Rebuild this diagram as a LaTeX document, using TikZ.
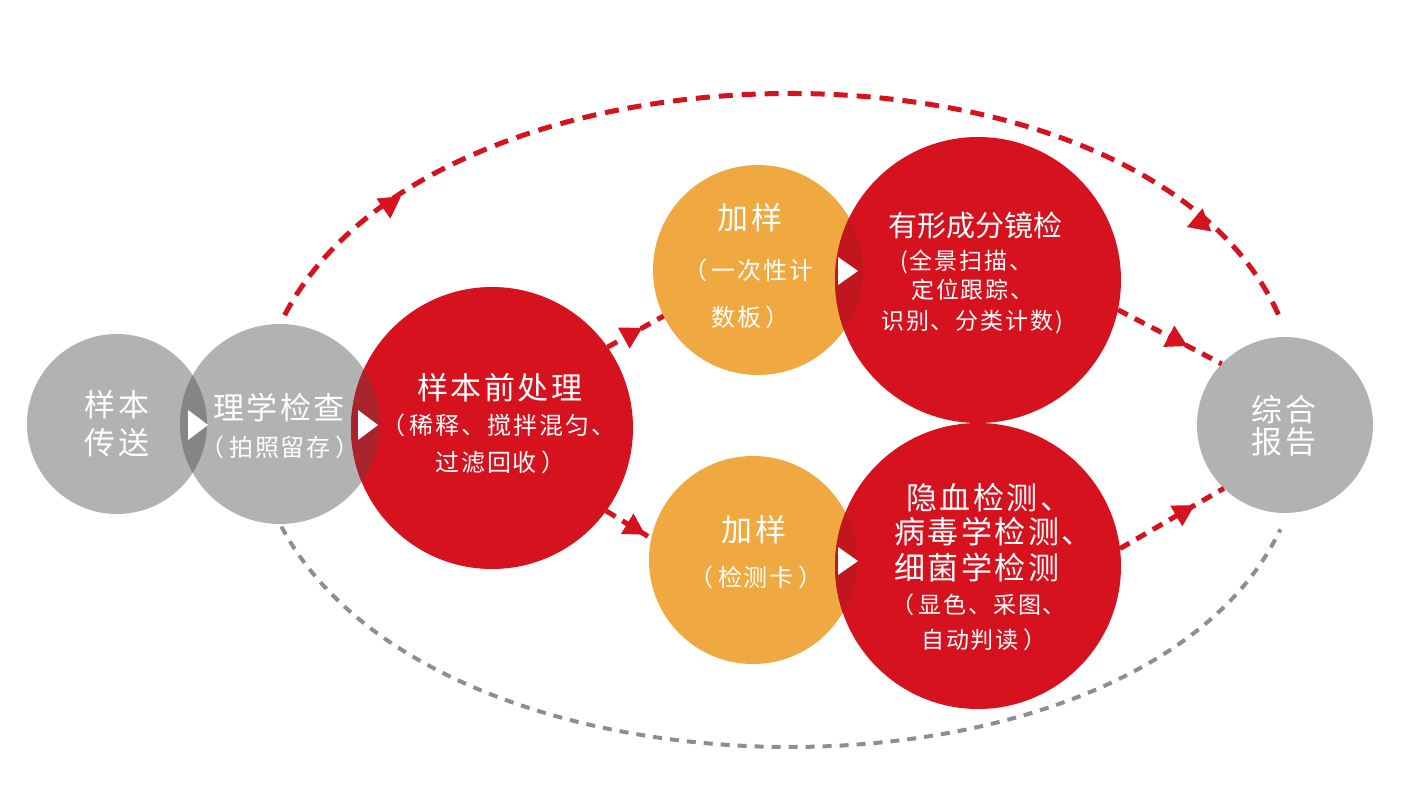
\documentclass[tikz,border=0pt]{standalone}
\usepackage{fontspec}
\newfontfamily\cjk[LetterSpace=8]{Noto Sans CJK SC}
\newfontfamily\cjktight{Noto Sans CJK SC}
\newcommand\lpp{（\kern0.2em}
\newcommand\rpp{\kern0.2em）}
\usetikzlibrary{decorations.markings}
\definecolor{cgrey}{HTML}{B2B2B2}
\definecolor{cgreyov}{HTML}{858585}
\definecolor{cred}{HTML}{D6121F}
\definecolor{credov}{HTML}{A8232B}
\definecolor{corange}{HTML}{F0A941}
\definecolor{corangeov}{HTML}{C2161F}
\definecolor{cdash}{HTML}{8E8E8E}
\begin{document}
\begin{tikzpicture}[x=1pt,y=-1pt,
  disc/.style={circle, inner sep=0pt, outer sep=0pt, minimum size=#1},
  big/.style={text=white, inner sep=0pt, font=\cjk\fontsize{31}{34}\selectfont},
  bigt/.style={text=white, inner sep=0pt, font=\cjktight\fontsize{29}{32}\selectfont},
  small/.style={text=white, inner sep=0pt, font=\cjk\fontsize{23}{26}\selectfont},
  smallb/.style={text=white, inner sep=0pt, font=\cjk\fontsize{24}{27}\selectfont},
  reddash/.style={draw=cred, line width=5pt, dash pattern=on 14pt off 9pt},
  redshort/.style={draw=cred, line width=5pt, dash pattern=on 11pt off 8pt},
  greydash/.style={draw=cdash, line width=4pt, dash pattern=on 9pt off 8pt},
  tipat/.style={postaction={decorate}, decoration={markings,
     mark=at position #1 with {\fill[cred] (14pt,0pt) -- (-7pt,12pt) -- (-7pt,-12pt) -- cycle;}}}
]
\useasboundingbox (0,0) rectangle (1417,810);
\fill[white] (0,0) rectangle (1417,810);

% circles
\node[disc=180pt, fill=cgrey] (c1) at (117,424) {};
\node[disc=200pt, fill=cgrey] (lx) at (280,424) {};
\node[disc=282pt, fill=cred] (qc) at (492,428) {};
\node[disc=210pt, fill=corange] (jy1) at (758,270) {};
\node[disc=286pt, fill=cred] (yx) at (978,280) {};
\node[disc=208pt, fill=corange] (jy2) at (753,560) {};
\node[disc=286pt, fill=cred] (yx2) at (978,566) {};
\node[disc=176pt, fill=cgrey] (zh) at (1285,425) {};

% overlaps
\begin{scope}
  \clip (c1.center) circle[radius=90pt];
  \fill[cgreyov] (lx.center) circle[radius=100pt];
\end{scope}
\begin{scope}
  \clip (lx.center) circle[radius=100pt];
  \fill[credov] (qc.center) circle[radius=141pt];
\end{scope}
\begin{scope}
  \clip (jy1.center) circle[radius=105pt];
  \fill[corangeov] (yx.center) circle[radius=143pt];
\end{scope}
\begin{scope}
  \clip (jy2.center) circle[radius=104pt];
  \fill[corangeov] (yx2.center) circle[radius=143pt];
\end{scope}

% white triangles
\fill[white] (188,410) -- (208,425) -- (188,440) -- cycle;
\fill[white] (358,410) -- (378,425) -- (358,440) -- cycle;
\fill[white] (838,257) -- (858,271) -- (838,285) -- cycle;
\fill[white] (838,547) -- (858,561) -- (838,575) -- cycle;

% texts
\node[big] (t1a) at (117,405) {样本};
\node[big] (t1b) at (117,443) {传送};
\node[big] (t2a) at (279,408) {理学检查};
\node[smallb] (t2b) at (280,447) {\lpp 拍照留存\rpp};
\node[big] (t3a) at (500,388) {样本前处理};
\node[smallb, anchor=west] (t3b) at (381,425) {\lpp 稀释、搅拌混匀、};
\node[smallb, anchor=west] (t3c) at (435,462) {过滤回收\rpp};
\node[big] (t4a) at (750,218) {加样};
\node[smallb, anchor=west] (t4b) at (683,270) {\lpp 一次性计};
\node[smallb, anchor=west] (t4c) at (711,317) {数板\rpp};
\node[bigt] (t5a) at (975,225) {有形成分镜检};
\node[small, anchor=west] (t5b) at (900,262) {(全景扫描、};
\node[small, anchor=west] (t5c) at (911,290) {定位跟踪、};
\node[small, anchor=west] (t5d) at (881,322) {识别、分类计数)};
\node[big] (t6a) at (754,530) {加样};
\node[smallb] (t6b) at (756,577) {\lpp 检测卡\rpp};
\node[big, anchor=west] (t7a) at (906,498) {隐血检测、};
\node[big, anchor=west] (t7b) at (894,532) {病毒学检测、};
\node[big] (t7c) at (977,568) {细菌学检测};
\node[small, anchor=west] (t7d) at (891,605) {\lpp 显色、采图、};
\node[small, anchor=west] (t7e) at (921,640) {自动判读\rpp};
\node[big] (t8a) at (1284,410) {综合};
\node[big] (t8b) at (1284,442) {报告};

% connectors
\draw[reddash, tipat=0.14, tipat=0.875, shorten <=10pt, shorten >=20pt]
  (lx.90) .. controls (439,19) and (1152,19) .. (zh.88);
\draw[greydash, shorten <=3pt, shorten >=18pt]
  (lx.270) .. controls (438,820) and (1143,820) .. (zh.272);
\draw[redshort, tipat=0.4] (qc.35) -- (jy1.206);
\draw[redshort, tipat=0.6] (qc.-36) -- (jy2.168);
\draw[redshort, tipat=0.55] (yx.-12) -- (zh.136);
\draw[redshort, tipat=0.6] (yx2.7) -- (zh.226);
\end{tikzpicture}
\end{document}
